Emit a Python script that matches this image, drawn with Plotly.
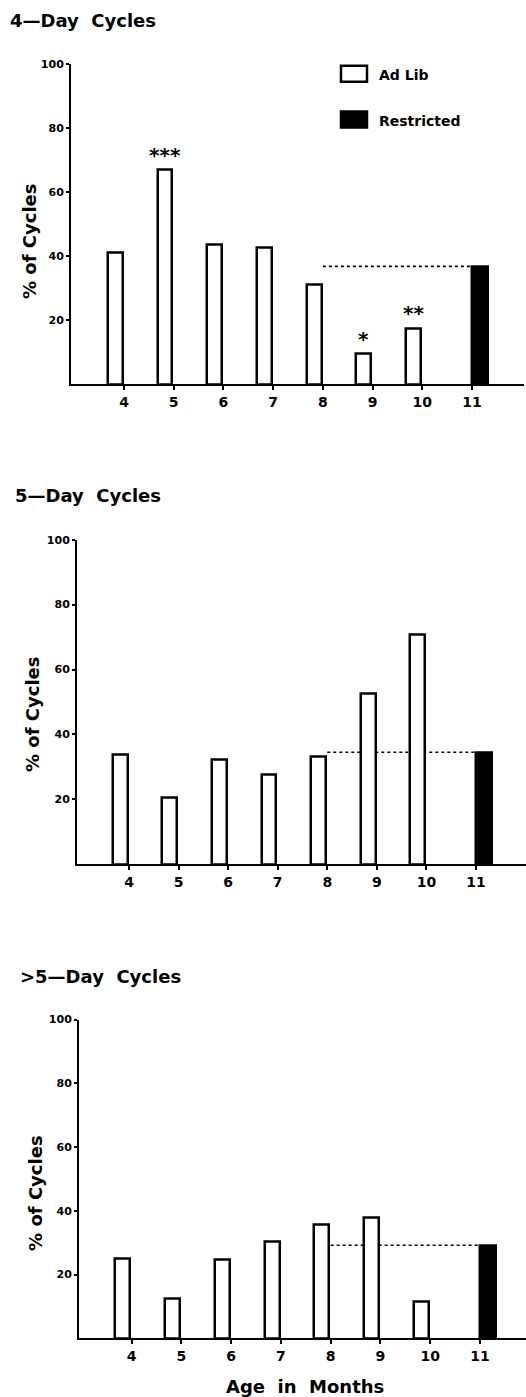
import plotly.graph_objects as go

W, H = 526, 1397

# ---- data ----
months = [4, 5, 6, 7, 8, 9, 10]
restricted_month = [11]
tick_months = [4, 5, 6, 7, 8, 9, 10, 11]
tick_text = ["4", "5", "6", "7", "8", "9", "10", "11"]
y_tickvals = [20, 40, 60, 80, 100]
y_ticktext = ["20", "40", "60", "80", "100"]

panel_titles = ["4\u2014Day  Cycles", "5\u2014Day  Cycles", ">5\u2014Day  Cycles"]
adlib_4day = [41.0, 67.0, 43.5, 42.7, 31.0, 9.6, 17.5]
restricted_4day = [36.8]
adlib_5day = [33.7, 20.5, 32.2, 27.6, 33.2, 52.5, 70.8]
restricted_5day = [34.5]
adlib_gt5day = [25.0, 12.5, 24.7, 30.2, 35.7, 38.0, 11.6]
restricted_gt5day = [29.2]

# significance marks (4-day panel)
sig_months = [5, 9, 10]
sig_labels = ["***", "*", "**"]

adlib_series = [adlib_4day, adlib_5day, adlib_gt5day]
restricted_series = [restricted_4day, restricted_5day, restricted_gt5day]

# ---- layout geometry (pixels) ----
geom = [
    dict(x0=71, x1=524, p4=124, p11=472, y0=380, y100=58),
    dict(x0=77, x1=526, p4=129, p11=476, y0=862, y100=536),
    dict(x0=79, x1=526, p4=131.5, p11=480, y0=1338, y100=1018),
]
title_pos = [(8, 15), (13, 492), (18, 975)]
ytitle_pos = [(30, 237), (33, 712), (36, 1193)]

FONT = "DejaVu Sans"

def px(x):
    return x / W

def py(y):
    return 1 - y / H

fig = go.Figure()
layout = dict(
    width=W, height=H,
    margin=dict(l=0, r=0, t=0, b=0),
    paper_bgcolor="white", plot_bgcolor="white",
    showlegend=False,
    bargap=0,
    annotations=[], shapes=[],
)

OFF_W, WID_W = -0.325, 0.30
OFF_B, WID_B = 0.0, 0.32

for i, g in enumerate(geom):
    n = "" if i == 0 else str(i + 1)
    xa, ya = "x" + n, "y" + n
    scale = (g["p11"] - g["p4"]) / 7.0
    xr = [4 - (g["p4"] - g["x0"]) / scale, 4 + (g["x1"] - g["p4"]) / scale]
    layout["xaxis" + n] = dict(
        domain=[px(g["x0"]), px(g["x1"])], range=xr, anchor=ya,
        showline=True, linecolor="black", linewidth=2,
        ticks="outside", ticklen=4, tickwidth=1.5, tickcolor="black",
        tickvals=tick_months, ticktext=tick_text,
        ticklabelstandoff=0,
        tickfont=dict(family=FONT, size=14, color="black", weight="bold"),
        showgrid=False, zeroline=False, fixedrange=True,
    )
    layout["yaxis" + n] = dict(
        domain=[py(g["y0"]), py(g["y100"])], range=[0, 100], anchor=xa,
        showline=True, linecolor="black", linewidth=2,
        ticks="outside", ticklen=3, tickwidth=1.5, tickcolor="black",
        tickvals=y_tickvals, ticktext=y_ticktext,
        tickfont=dict(family=FONT, size=11, color="black", weight="bold"),
        showgrid=False, zeroline=False, fixedrange=True,
    )
    # dotted reference line at restricted level, drawn below the bars
    r = restricted_series[i][0]
    layout["shapes"].append(dict(
        type="line", xref=xa, yref=ya, x0=8, x1=restricted_month[0], y0=r, y1=r,
        line=dict(color="black", width=1.6, dash="dot"), layer="below",
    ))
    fig.add_trace(go.Bar(
        x=months, y=adlib_series[i], xaxis=xa, yaxis=ya,
        offset=OFF_W, width=WID_W,
        marker=dict(color="white", line=dict(color="black", width=2.5)),
        name="Ad Lib",
    ))
    fig.add_trace(go.Bar(
        x=restricted_month, y=restricted_series[i], xaxis=xa, yaxis=ya,
        offset=OFF_B, width=WID_B,
        marker=dict(color="black", line=dict(color="black", width=2.5)),
        name="Restricted",
    ))
    tx, ty = title_pos[i]
    layout["annotations"].append(dict(
        text=panel_titles[i], xref="paper", yref="paper", x=px(tx), y=py(ty),
        xanchor="left", yanchor="middle", showarrow=False,
        font=dict(family=FONT, size=18, color="black", weight="bold"),
    ))
    yx, yy = ytitle_pos[i]
    layout["annotations"].append(dict(
        text="% of Cycles", xref="paper", yref="paper", x=px(yx), y=py(yy),
        xanchor="center", yanchor="middle", textangle=-90, showarrow=False,
        font=dict(family=FONT, size=18, color="black", weight="bold"),
    ))

# significance asterisks
for m, lab in zip(sig_months, sig_labels):
    v = adlib_4day[months.index(m)]
    layout["annotations"].append(dict(
        text=lab, xref="x", yref="y", x=m + OFF_W + WID_W / 2, y=v,
        xanchor="center", yanchor="middle", yshift=15, showarrow=False,
        font=dict(family=FONT, size=20, color="black", weight="bold"),
    ))

# legend (top panel)
legend_items = [("Ad Lib", "white", 68), ("Restricted", "black", 114)]
for lab, col, cy in legend_items:
    layout["shapes"].append(dict(
        type="rect", xref="paper", yref="paper",
        x0=px(341), x1=px(367), y0=py(cy + 8), y1=py(cy - 8),
        fillcolor=col, line=dict(color="black", width=2.5),
    ))
    layout["annotations"].append(dict(
        text=lab, xref="paper", yref="paper", x=px(377), y=py(cy + 1),
        xanchor="left", yanchor="middle", showarrow=False,
        font=dict(family=FONT, size=14, color="black", weight="bold"),
    ))

# x axis title
layout["annotations"].append(dict(
    text="Age  in  Months", xref="paper", yref="paper", x=px(305), y=py(1386),
    xanchor="center", yanchor="middle", showarrow=False,
    font=dict(family=FONT, size=18, color="black", weight="bold"),
))

fig.update_layout(**layout)
fig.write_html("out.html")
